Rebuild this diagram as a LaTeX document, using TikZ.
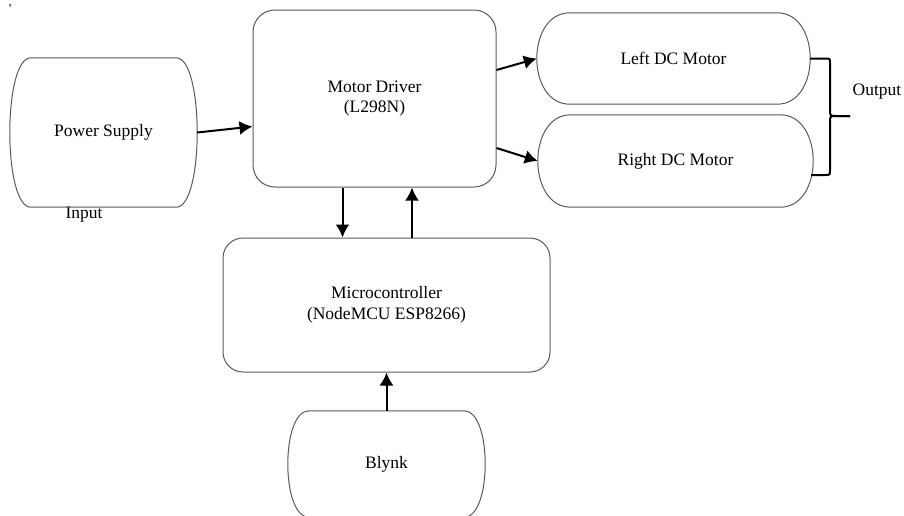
\documentclass[tikz,border=0pt]{standalone}
\usepackage{fontspec}
\setmainfont{Liberation Serif}
\usetikzlibrary{arrows.meta,calc}
\tikzset{
  txt/.style={font=\fontsize{17.5}{20.5}\selectfont, align=center, inner sep=0pt},
  rbox/.style={txt, draw=black!65, line width=1pt, rounded corners=22pt},
  shp/.style={draw=black!65, line width=1pt},
  arr/.style={line width=2pt, -{Latex[length=13pt,width=14pt]}},
  brace/.style={line width=2pt, line join=round},
}
\newcommand{\bulgeshape}[3]{%
  \draw[shp] ([xshift=#2]#1.north west) -- ([xshift=-#2]#1.north east)
    .. controls ([xshift=#3]#1.north east) and ([xshift=#3]#1.south east) ..
    ([xshift=-#2]#1.south east) -- ([xshift=#2]#1.south west)
    .. controls ([xshift=-#3]#1.south west) and ([xshift=-#3]#1.north west) .. cycle;}
\begin{document}
\begin{tikzpicture}[x=1pt,y=-1pt]
\useasboundingbox (0,0) rectangle (904,515);
% nodes
\node[txt, minimum width=187pt, minimum height=149pt] (ps) at (103.5,132.5) {Power Supply};
\node[rbox, minimum width=243pt, minimum height=177pt] (md) at (374.5,98.5) {Motor Driver\\(L298N)};
\node[txt, minimum width=273pt, minimum height=91pt] (lm) at (673.5,58.5) {Left DC Motor};
\node[txt, minimum width=275pt, minimum height=92pt] (rm) at (675.5,161) {Right DC Motor};
\node[rbox, rounded corners=20pt, minimum width=327pt, minimum height=134pt] (mc) at (386.5,305) {Microcontroller\\(NodeMCU ESP8266)};
\node[txt, minimum width=197pt, minimum height=106pt] (bl) at (386.5,464) {Blynk};
\node[txt] (in) at (84,215) {Input};
\node[txt] (out) at (877,92) {Output};
\node[font=\fontsize{12}{12}\selectfont, inner sep=0pt] (tick) at (10,9) {'};
% shapes
\bulgeshape{ps}{21pt}{7pt}
\bulgeshape{bl}{21pt}{7pt}
\bulgeshape{lm}{33pt}{11pt}
\bulgeshape{rm}{33pt}{11pt}
% connectors
\draw[arr] (ps.east) -- ([yshift=-28pt]md.west);
\draw[arr] ([yshift=28.5pt]md.east) -- (lm.west);
\draw[arr] ([yshift=-49.5pt]md.east) -- (rm.west);
\draw[arr] ([xshift=-32pt]md.south) -- ([xshift=-32pt]md.south |- mc.north);
\draw[arr] ([xshift=37.5pt]md.south |- mc.north) -- ([xshift=37.5pt]md.south);
\draw[arr] (bl.north) -- (mc.south);
% brace
\coordinate (tip) at (850,116);
\coordinate (rb) at (811,175);
\draw[brace] (lm.east) -- (825,58.5) .. controls (830,58.5) .. (830,63) -- (830,110)
  .. controls (830,116) .. (837,116) -- (tip);
\draw[brace] (tip) -- (837,116) .. controls (830,116) .. (830,122) -- (830,170)
  .. controls (830,175) .. (825,175) -- (rb);
\end{tikzpicture}
\end{document}
